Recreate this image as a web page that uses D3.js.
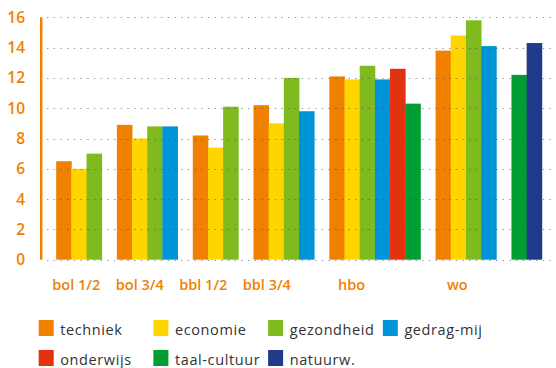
<!DOCTYPE html>
<html>
<head>
<meta charset="utf-8">
<script src="https://cdn.jsdelivr.net/npm/d3@7"></script>
<style>
  html, body { margin: 0; padding: 0; background: #fff; }
  svg { display: block; }
</style>
</head>
<body>
<svg id="chart" width="556" height="368"></svg>
<script>
// Categories (education levels) along the x axis
const categories = ["bol 1/2", "bol 3/4", "bbl 1/2", "bbl 3/4", "hbo", "wo"];

// One value per category for each sector; null = no bar
const techniek     = [6.5, 8.9, 8.2, 10.2, 12.1, 13.8];
const economie     = [6.0, 8.0, 7.4, 9.0, 11.9, 14.8];
const gezondheid   = [7.0, 8.8, 10.1, 12.0, 12.8, 15.8];
const gedragMij    = [null, 8.8, null, 9.8, 11.9, 14.1];
const onderwijs    = [null, null, null, null, 12.6, null];
const taalCultuur  = [null, null, null, null, 10.3, 12.2];
const natuurw      = [null, null, null, null, null, 14.3];

const seriesNames  = ["techniek", "economie", "gezondheid", "gedrag-mij", "onderwijs", "taal-cultuur", "natuurw."];
const seriesValues = [techniek, economie, gezondheid, gedragMij, onderwijs, taalCultuur, natuurw];
const seriesColors = ["#F08100", "#FFD500", "#7FBA1F", "#0095D9", "#E4310F", "#009E33", "#1F3C8C"];

const yTicks = [0, 2, 4, 6, 8, 10, 12, 14, 16];

const svg = d3.select("#chart");
const orange = "#F08100";
const font = "'Open Sans', sans-serif";

// Flat slot layout: a blank slot before every group, then one slot per
// sector up to the last sector that has a value in that group.
const slots = [];
const bars = [];
const groupSlots = [];
categories.forEach((cat, ci) => {
  slots.push("gap-" + ci);
  let last = -1;
  seriesValues.forEach((vals, si) => { if (vals[ci] != null) last = si; });
  const keys = [];
  for (let si = 0; si <= last; si++) {
    const key = ci + "-" + si;
    slots.push(key);
    keys.push(key);
    if (seriesValues[si][ci] != null) {
      bars.push({ key, value: seriesValues[si][ci], color: seriesColors[si] });
    }
  }
  groupSlots.push(keys);
});
slots.push("gap-end");

const x = d3.scaleBand().domain(slots).range([41, 557]).padding(0);
const y = d3.scaleLinear().domain([0, 16]).range([259.7, 17.3]);

// Bars
svg.append("g")
  .selectAll("rect")
  .data(bars)
  .join("rect")
  .attr("x", d => x(d.key))
  .attr("width", x.bandwidth() + 0.4)
  .attr("y", d => y(d.value))
  .attr("height", d => y(0) - y(d.value))
  .attr("fill", d => d.color);

// Dotted grid lines, drawn over the bars
svg.append("g")
  .selectAll("line")
  .data(yTicks)
  .join("line")
  .attr("x1", 47)
  .attr("x2", 556)
  .attr("y1", d => Math.round(y(d)) + 0.5)
  .attr("y2", d => Math.round(y(d)) + 0.5)
  .attr("stroke", "#444")
  .attr("stroke-opacity", 0.55)
  .attr("stroke-width", 1.2)
  .attr("stroke-dasharray", "1.4 5.3");

// Y axis: orange rule and tick labels
const yAxis = d3.axisLeft(y).tickValues(yTicks).tickSize(0).tickPadding(16);
const gy = svg.append("g").attr("transform", "translate(41,0)").call(yAxis);
gy.select(".domain").remove();
gy.selectAll("text")
  .attr("fill", orange)
  .attr("font-family", font)
  .attr("font-weight", 600)
  .attr("font-size", "15.5px");
svg.append("line")
  .attr("x1", 41.2).attr("x2", 41.2)
  .attr("y1", y(16)).attr("y2", y(0))
  .attr("stroke", orange)
  .attr("stroke-width", 2.5);

// Category labels sit on a slightly compressed copy of the bar axis
const labelX = d3.scaleLinear().domain([41, 557]).range([41, 41 + 0.93 * 516]);
svg.append("g")
  .selectAll("text")
  .data(categories)
  .join("text")
  .attr("x", (d, i) => {
    const keys = groupSlots[i];
    const c = (x(keys[0]) + x(keys[keys.length - 1]) + x.bandwidth()) / 2;
    return labelX(c);
  })
  .attr("y", 290)
  .attr("text-anchor", "middle")
  .attr("fill", orange)
  .attr("font-family", font)
  .attr("font-weight", 600)
  .attr("font-size", "14.5px")
  .text(d => d);

// Legend: four columns, two rows
const legend = svg.append("g")
  .selectAll("g")
  .data(seriesNames)
  .join("g")
  .attr("transform", (d, i) => `translate(${38.7 + (i % 4) * 114.7},${320 + Math.floor(i / 4) * 30})`);
legend.append("rect")
  .attr("width", 15).attr("height", 16)
  .attr("fill", (d, i) => seriesColors[i]);
legend.append("text")
  .attr("x", 21.6)
  .attr("y", 14.5)
  .attr("fill", "#333")
  .attr("font-family", font)
  .attr("font-size", "14.5px")
  .attr("letter-spacing", "0.6px")
  .text(d => d);
</script>
</body>
</html>
